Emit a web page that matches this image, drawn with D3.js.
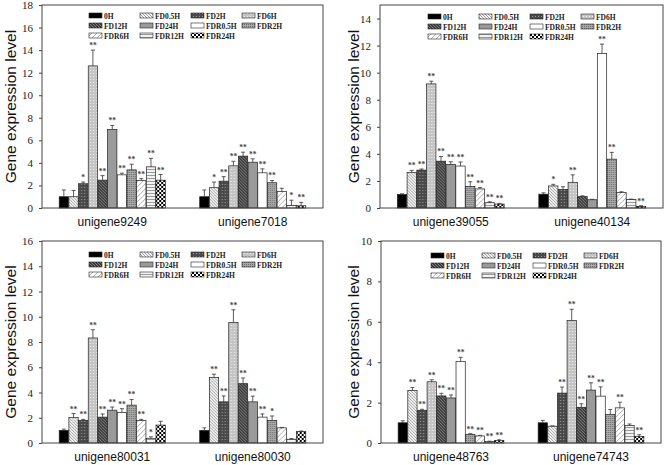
<!DOCTYPE html>
<html><head><meta charset="utf-8">
<script src="https://cdn.jsdelivr.net/npm/d3@7"></script>
<style>body{margin:0;background:#fff}svg{display:block}</style>
</head><body>
<svg id="c" width="666" height="465"></svg>
<script>
const seriesNames = ["0H","FD0.5H","FD2H","FD6H","FD12H","FD24H","FDR0.5H","FDR2H","FDR6H","FDR12H","FDR24H"];

const genesA = ["unigene9249","unigene7018"];
const valuesA = [[1.0,1.0,2.15,12.6,2.47,6.97,2.94,3.38,2.45,3.65,2.47],
                 [1.0,1.8,2.38,3.74,4.6,4.06,3.12,2.24,1.45,0.24,0.2]];
const errorsA = [[0.6,0.55,0.15,1.4,0.4,0.35,0.15,0.5,0.15,0.75,0.5],
                 [0.6,0.5,0.4,0.4,0.35,0.3,0.35,0.2,0.3,0.45,0.3]];
const signifA = [["","","*","**","**","**","**","**","**","**","**"],
                 ["","*","**","**","**","**","**","**","","*","**"]];

const genesB = ["unigene39055","unigene40134"];
const valuesB = [[1.0,2.63,2.8,9.17,3.46,3.22,3.1,1.59,1.41,0.39,0.29],
                 [1.02,1.63,1.37,1.9,0.85,0.61,11.41,3.61,1.15,0.63,0.12]];
const errorsB = [[0.05,0.15,0.08,0.2,0.35,0.2,0.3,0.35,0.1,0.07,0.05],
                 [0.1,0.12,0.2,0.55,0.05,0.03,0.7,0.5,0.05,0.03,0.05]];
const signifB = [["","**","**","**","**","**","**","**","**","**","**"],
                 ["","*","","**","","","**","**","","","**"]];

const genesC = ["unigene80031","unigene80030"];
const valuesC = [[1.0,2.03,1.79,8.32,2.05,2.6,2.42,3.0,1.79,0.37,1.42],
                 [1.0,5.2,3.26,9.55,4.7,3.26,2.05,1.79,1.2,0.3,0.9]];
const errorsC = [[0.1,0.3,0.08,0.65,0.25,0.25,0.3,0.45,0.08,0.12,0.3],
                 [0.2,0.25,0.47,1.0,0.45,0.45,0.25,0.35,0.03,0.05,0.05]];
const signifC = [["","**","**","**","**","**","**","**","**","*",""],
                 ["","**","**","**","**","**","**","*","","",""]];

const genesD = ["unigene48763","unigene74743"];
const valuesD = [[1.0,2.6,1.62,3.03,2.33,2.23,4.04,0.43,0.35,0.07,0.13],
                 [1.0,0.83,2.47,6.06,1.77,2.62,2.32,1.41,1.74,0.86,0.33]];
const errorsD = [[0.1,0.15,0.05,0.1,0.13,0.15,0.2,0.03,0.03,0.02,0.03],
                 [0.12,0.02,0.3,0.56,0.17,0.36,0.46,0.25,0.28,0.08,0.08]];
const signifD = [["","**","**","**","**","**","**","**","**","**","**"],
                 ["","","**","**","**","**","**","","**","","**"]];

const yMaxes = [18, 15, 16, 10];
const yTickMax = [18, 14, 16, 10];

const svg = d3.select("#c");
const defs = svg.append("defs");
function pat(id, w, h, bg, draw) {
  const p = defs.append("pattern").attr("id", id).attr("patternUnits","userSpaceOnUse")
    .attr("width", w).attr("height", h);
  p.append("rect").attr("width", w).attr("height", h).attr("fill", bg);
  draw(p);
}
pat("p1", 3, 3, "#f4f4f4", p => p.append("path").attr("d","M0,0L3,3M-1,2L1,4M2,-1L4,1").attr("stroke","#8a8a8a").attr("stroke-width",0.8));
pat("p2", 3, 3, "#4a4a4a", p => p.append("rect").attr("x",1).attr("y",1).attr("width",1).attr("height",1).attr("fill","#9a9a9a"));
pat("p3", 3, 3, "#c4c4c4", p => p.append("rect").attr("x",1).attr("y",1).attr("width",1).attr("height",1).attr("fill","#f0f0f0"));
pat("p4", 3, 3, "#3c3c3c", p => p.append("path").attr("d","M0,0L3,3M-1,2L1,4M2,-1L4,1").attr("stroke","#a0a0a0").attr("stroke-width",0.7));
pat("p7", 2, 2, "#a8a8a8", p => p.append("rect").attr("width",1).attr("height",1).attr("fill","#6e6e6e"));
pat("p8", 5, 5, "#ffffff", p => p.append("path").attr("d","M0,5L5,0M-1,1L1,-1M4,6L6,4").attr("stroke","#999").attr("stroke-width",0.8));
pat("p9", 3, 3, "#f2f2f2", p => p.append("rect").attr("y",1).attr("width",3).attr("height",1).attr("fill","#9a9a9a"));
pat("p10", 4, 4, "#ffffff", p => { p.append("rect").attr("width",2).attr("height",2).attr("fill","#000"); p.append("rect").attr("x",2).attr("y",2).attr("width",2).attr("height",2).attr("fill","#000"); });

const fills = ["#000","url(#p1)","url(#p2)","url(#p3)","url(#p4)","#9a9a9a","#fff","url(#p7)","url(#p8)","url(#p9)","url(#p10)"];

const panels = [
  {genes: genesA, vals: valuesA, errs: errorsA, sig: signifA, box:[42,323,5,208], leg:[47,11], titleX:12},
  {genes: genesB, vals: valuesB, errs: errorsB, sig: signifB, box:[380,663,5,208], leg:[48,12], titleX:355},
  {genes: genesC, vals: valuesC, errs: errorsC, sig: signifC, box:[42,323,241,443], leg:[47,14], titleX:12},
  {genes: genesD, vals: valuesD, errs: errorsD, sig: signifD, box:[381,661,241,443], leg:[50,15], titleX:355}
];

panels.forEach((P, pi) => {
  const [L, R, T, B] = P.box;
  const g = svg.append("g");
  const y = d3.scaleLinear().domain([0, yMaxes[pi]]).range([B, T]);
  const x0 = d3.scaleBand().domain(P.genes).range([L, R]).paddingInner(0.245).paddingOuter(0.1225);
  const x1 = d3.scaleBand().domain(seriesNames).range([0, x0.bandwidth()]).paddingInner(0.04);

  P.genes.forEach((gene, gi) => {
    const gg = g.append("g").attr("transform", `translate(${x0(gene)},0)`);
    seriesNames.forEach((s, si) => {
      const v = P.vals[gi][si], e = P.errs[gi][si];
      const bx = x1(s), bw = x1.bandwidth(), cx = bx + bw / 2;
      gg.append("rect").attr("x", bx).attr("y", y(v)).attr("width", bw).attr("height", y(0) - y(v))
        .attr("fill", fills[si]).attr("stroke", "#222").attr("stroke-width", 0.7);
      gg.append("line").attr("x1", cx).attr("x2", cx).attr("y1", y(v)).attr("y2", y(v + e))
        .attr("stroke", "#333").attr("stroke-width", 0.8);
      gg.append("line").attr("x1", cx - 2).attr("x2", cx + 2).attr("y1", y(v + e)).attr("y2", y(v + e))
        .attr("stroke", "#333").attr("stroke-width", 0.8);
      if (P.sig[gi][si]) {
        gg.append("text").attr("x", cx).attr("y", y(v + e) - 2).attr("text-anchor", "middle")
          .attr("font-family", "Liberation Serif, serif").attr("font-size", 7.5).attr("font-weight", "bold")
          .attr("fill", "#444").text(P.sig[gi][si]);
      }
    });
  });

  g.append("rect").attr("x", L).attr("y", T).attr("width", R - L).attr("height", B - T)
    .attr("fill", "none").attr("stroke", "#444").attr("stroke-width", 1);

  const ticks = d3.range(0, yTickMax[pi] + 0.001, 2);
  const ax = g.append("g").attr("transform", `translate(${L},0)`)
    .call(d3.axisLeft(y).tickValues(ticks).tickSize(3).tickPadding(6).tickFormat(d3.format("d")));
  ax.select(".domain").remove();
  ax.selectAll("line").attr("stroke", "#444");
  ax.selectAll("text").attr("font-family", "Liberation Serif, serif").attr("font-size", 11).attr("fill", "#222");

  P.genes.forEach(gene => {
    g.append("text").attr("x", x0(gene) + x0.bandwidth() / 2).attr("y", B + 18)
      .attr("text-anchor", "middle").attr("font-family", "Liberation Sans, Arial, sans-serif")
      .attr("font-size", 12).attr("fill", "#111").text(gene);
  });

  g.append("text").attr("transform", `translate(${P.titleX + 4},${(T + B) / 2}) rotate(-90)`)
    .attr("text-anchor", "middle").attr("font-family", "Liberation Sans, Arial, sans-serif")
    .attr("font-size", 15.5).attr("fill", "#111").text("Gene expression level");

  seriesNames.forEach((s, si) => {
    const col = si % 4, row = Math.floor(si / 4);
    const lx = L + P.leg[0] + col * 51, ly = T + P.leg[1] + row * 10;
    g.append("rect").attr("x", lx).attr("y", ly - 3).attr("width", 13).attr("height", 5)
      .attr("fill", fills[si]).attr("stroke", "#222").attr("stroke-width", 0.6);
    g.append("text").attr("x", lx + 15).attr("y", ly + 2.5)
      .attr("font-family", "Liberation Serif, serif").attr("font-size", 7.5).attr("font-weight", "bold")
      .attr("fill", "#222").text(s);
  });
});
</script>
</body></html>
